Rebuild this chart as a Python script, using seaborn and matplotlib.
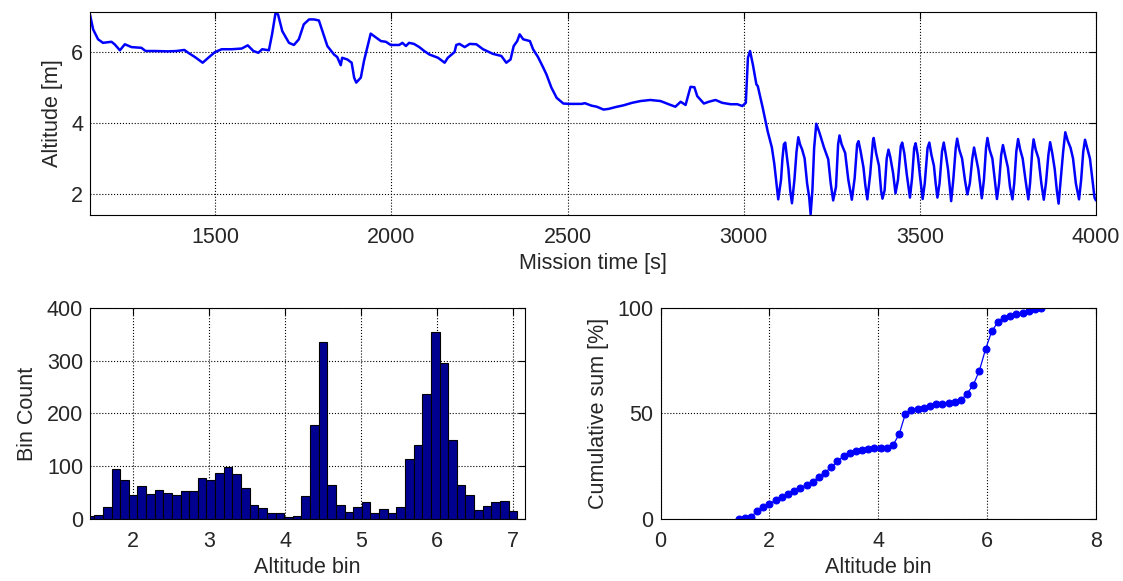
import numpy as np
import pandas as pd
import seaborn as sns
import matplotlib.pyplot as plt

# altitude trace (time [s], altitude [m])
mission_time = [
    1144, 1153, 1167, 1181, 1205, 1214, 1229, 1243, 1262, 1290, 1302, 1328, 1366, 1390,
    1412, 1423, 1442, 1464, 1480, 1499, 1518, 1547, 1575, 1592, 1608, 1622,
    1633, 1652, 1661, 1671, 1678, 1690, 1709, 1723, 1737, 1751, 1766, 1780, 1794, 1804,
    1818, 1837, 1846, 1856, 1860, 1875, 1887, 1894, 1900, 1913, 1922, 1941, 1955, 1970,
    1984, 1998, 2022, 2031, 2041, 2050, 2064, 2079, 2093,
    2108, 2132, 2151, 2160, 2179, 2184, 2193, 2208, 2222, 2241, 2260, 2288, 2312, 2326,
    2338, 2347, 2357, 2364, 2374, 2393, 2402, 2416, 2431, 2440, 2454, 2469, 2488, 2507,
    2540, 2549, 2568,
    2583, 2602, 2617, 2636, 2659, 2683, 2707, 2735, 2764, 2787, 2806, 2821, 2835, 2849,
    2860, 2868, 2887, 2901, 2920, 2939, 2963, 2982, 2996, 3006, 3012, 3018, 3026, 3036,
    3040, 3054, 3068, 3080, 3087, 3093, 3098, 3106, 3110, 3114, 3118, 3122, 3127, 3132,
    3137, 3144, 3150, 3155, 3160, 3166, 3173, 3180, 3186, 3190, 3195, 3200, 3206, 3215,
    3228, 3240, 3247, 3254, 3262, 3268, 3272, 3278, 3288, 3297, 3307, 3315, 3322, 3326,
    3332, 3340, 3345, 3351, 3359, 3367, 3369, 3376, 3384, 3390, 3394, 3400, 3406, 3411,
    3416, 3424, 3431, 3438, 3446, 3450, 3456, 3463, 3472, 3478, 3484, 3488, 3494, 3500,
    3508, 3514, 3522, 3527, 3533, 3540, 3545, 3550, 3556, 3563, 3568, 3574, 3580, 3589,
    3595, 3602, 3606, 3612, 3620, 3628, 3635, 3642, 3649, 3654, 3659, 3666, 3676, 3682,
    3688, 3692, 3698, 3706, 3713, 3719, 3725, 3731, 3736, 3742, 3750, 3756, 3763, 3768,
    3774, 3779, 3785, 3792, 3800, 3808, 3813, 3819, 3823, 3829, 3837, 3845, 3852, 3858,
    3865, 3870, 3876, 3883, 3889, 3894, 3900, 3907, 3913, 3920, 3928, 3935, 3943, 3952,
    3958, 3964, 3969, 3975, 3983, 3990, 3996, 4000,
]
altitude = [
    7.06, 6.64, 6.36, 6.26, 6.29, 6.22, 6.05, 6.22, 6.14, 6.12, 6.03, 6.03, 6.02, 6.03,
    6.06, 5.98, 5.86, 5.70, 5.84, 6.00, 6.08, 6.08, 6.10, 6.19, 6.03, 5.98,
    6.08, 6.05, 6.50, 7.11, 7.06, 6.59, 6.26, 6.20, 6.36, 6.78, 6.92, 6.92, 6.89, 6.59,
    6.17, 5.93, 5.86, 5.63, 5.84, 5.79, 5.70, 5.28, 5.14, 5.28, 5.75, 6.52, 6.42, 6.31,
    6.29, 6.20, 6.20, 6.26, 6.17, 6.26, 6.23, 6.14, 6.03,
    5.93, 5.84, 5.70, 5.84, 6.00, 6.20, 6.23, 6.14, 6.23, 6.22, 6.08, 5.95, 5.89, 5.70,
    5.79, 6.17, 6.31, 6.50, 6.36, 6.31, 6.08, 5.86, 5.56, 5.37, 5.00, 4.71, 4.55, 4.54,
    4.54, 4.56, 4.49,
    4.46, 4.38, 4.40, 4.45, 4.50, 4.57, 4.62, 4.65, 4.62, 4.53, 4.46, 4.60, 4.51, 5.02,
    5.01, 4.76, 4.55, 4.60, 4.65, 4.57, 4.53, 4.53, 4.48, 4.57, 5.84, 6.03, 5.65, 5.09,
    5.04, 4.43, 3.77, 3.31, 2.84, 2.30, 1.85, 2.40, 3.00, 3.40, 3.45, 3.10, 2.70, 2.10,
    1.74, 2.40, 3.20, 3.60, 3.40, 3.25, 3.00, 2.30, 1.90, 1.43, 2.10, 3.30, 3.98, 3.73,
    3.31, 2.98, 2.30, 1.82, 2.20, 3.40, 3.65, 3.40, 3.16, 2.40, 1.84, 2.45, 3.40, 3.49,
    3.20, 2.75, 2.27, 1.85, 2.55, 3.50, 3.58, 3.15, 2.80, 2.10, 1.87, 2.10, 3.00, 3.25,
    3.05, 2.60, 2.02, 2.40, 3.35, 3.45, 3.15, 2.55, 1.90, 2.45, 3.30, 3.43, 3.10, 2.55,
    1.86, 2.30, 3.30, 3.45, 3.10, 2.80, 2.30, 1.90, 2.30, 3.20, 3.45, 3.10, 2.70, 1.80,
    2.40, 3.30, 3.56, 3.25, 3.00, 2.40, 1.99, 2.30, 3.00, 3.31, 3.05, 2.70, 1.88, 2.40,
    3.30, 3.58, 3.25, 3.00, 2.40, 1.86, 2.30, 3.10, 3.38, 3.10, 2.75, 2.20, 1.85, 2.30,
    3.20, 3.55, 3.25, 3.00, 2.40, 1.85, 2.30, 3.20, 3.54, 3.25, 3.00, 2.30, 1.84, 2.30,
    3.10, 3.46, 3.15, 2.70, 2.10, 1.73, 2.40, 3.20, 3.74, 3.50, 3.30, 3.00, 2.30, 1.85,
    2.40, 3.20, 3.53, 3.30, 3.00, 2.40, 1.90, 1.82,
]

# histogram of the altitude (50 bins)
bin_counts = [
    5, 8, 22, 95, 74, 45, 63, 48, 55, 50,
    45, 53, 53, 77, 74, 87, 98, 85, 59, 27,
    20, 12, 12, 3, 5, 43, 178, 335, 64, 27,
    14, 22, 32, 12, 19, 12, 22, 114, 140, 237,
    355, 295, 150, 64, 46, 18, 24, 32, 35, 16,
]
bin_lo, bin_hi = 1.378, 7.053
bin_edges = np.linspace(bin_lo, bin_hi, len(bin_counts) + 1)
bin_centers = (bin_edges[:-1] + bin_edges[1:]) / 2

df_alt = pd.DataFrame({"t": mission_time, "alt": altitude})
df_hist = pd.DataFrame({"bin": bin_centers, "count": bin_counts})
df_hist["cum"] = df_hist["count"].cumsum() / df_hist["count"].sum() * 100

sns.set_theme(style="white")
plt.rcParams["font.family"] = ["Liberation Sans", "DejaVu Sans"]
plt.rcParams["font.size"] = 15.5
plt.rcParams["axes.linewidth"] = 0.8

fig = plt.figure(figsize=(11.23, 5.81), dpi=100)
ax1 = fig.add_axes([0.0801, 0.630, 0.8958, 0.3494])
ax2 = fig.add_axes([0.0801, 0.1067, 0.3874, 0.3632])
ax3 = fig.add_axes([0.5882, 0.1067, 0.3875, 0.3632])

# top: altitude over mission time
sns.lineplot(data=df_alt, x="t", y="alt", ax=ax1, color="blue", lw=1.8,
             estimator=None, sort=False)
ax1.set_xlim(1144, 4000)
ax1.set_ylim(1.41, 7.13)
ax1.set_xticks([1500, 2000, 2500, 3000, 3500, 4000])
ax1.set_yticks([2, 4, 6])
ax1.set_xlabel("Mission time [s]", fontsize=15.5)
ax1.set_ylabel("Altitude [m]", fontsize=15.5)

# bottom left: histogram
sns.histplot(data=df_hist, x="bin", weights="count", bins=bin_edges.tolist(), ax=ax2,
             color="#000090", edgecolor="black", linewidth=0.8, alpha=1)
ax2.set_xlim(1.435, 7.155)
ax2.set_ylim(0, 400)
ax2.set_xticks([2, 3, 4, 5, 6, 7])
ax2.set_yticks([0, 100, 200, 300, 400])
ax2.set_xlabel("Altitude bin", fontsize=15.5)
ax2.set_ylabel("Bin Count", fontsize=15.5)

# bottom right: cumulative sum
sns.lineplot(data=df_hist, x="bin", y="cum", ax=ax3, color="blue", lw=0.9,
             marker="o", markersize=5, markeredgecolor="blue", estimator=None)
ax3.set_xlim(0, 8)
ax3.set_ylim(0, 100)
ax3.set_xticks([0, 2, 4, 6, 8])
ax3.set_yticks([0, 50, 100])
ax3.set_xlabel("Altitude bin", fontsize=15.5)
ax3.set_ylabel("Cumulative sum [%]", fontsize=15.5)

for ax in (ax1, ax2, ax3):
    ax.grid(True, linestyle=":", color="black", linewidth=0.8)
    ax.set_axisbelow(True)
    ax.tick_params(direction="in", top=True, right=True, length=5, width=0.8,
                   labelsize=15.5, color="black", pad=5)
    ax.tick_params(axis="x", pad=8.5)
    ax.xaxis.labelpad = 4
    ax.yaxis.labelpad = 6
    for s in ax.spines.values():
        s.set_color("black")

fig.savefig("out.png", dpi=100)
